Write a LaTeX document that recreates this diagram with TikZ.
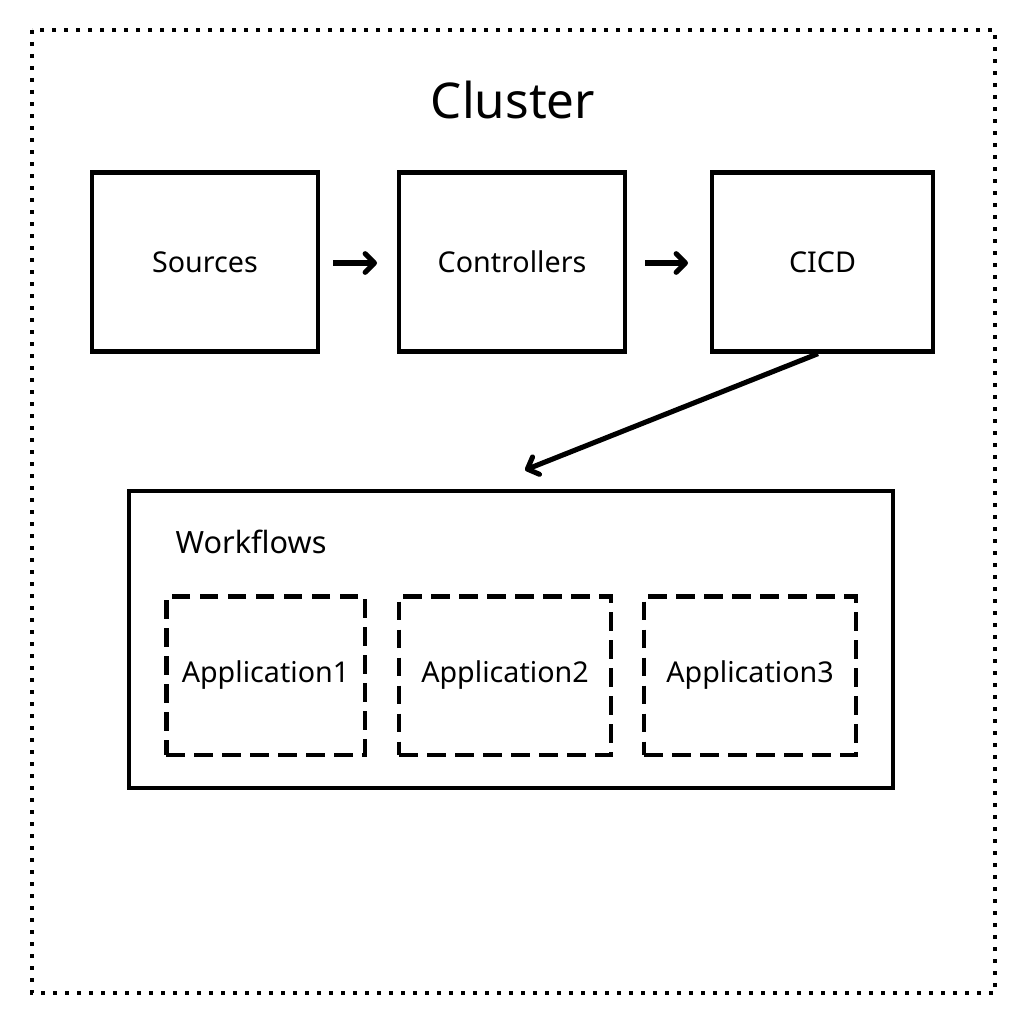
\documentclass[tikz,border=0pt]{standalone}
\usepackage{fontspec}
\setmainfont{Noto Sans}
\usetikzlibrary{arrows.meta}
\begin{document}
\begin{tikzpicture}[x=0.75pt,y=-0.75pt,
  box/.style={draw,line width=3.5pt,minimum width=168pt,minimum height=134pt,inner sep=0pt,font=\fontsize{21.5}{25}\selectfont},
  appbox/.style={draw,line width=3.5pt,dash pattern=on 14pt off 7pt,inner sep=0pt,font=\fontsize{21.5}{25}\selectfont},
  arr/.style={line width=3.8pt,-{Straight Barb[round,length=7pt,width=14pt]}}]
\useasboundingbox (0,0) rectangle (1024,1024);
\draw[line width=3.2pt,dash pattern=on 3pt off 6pt] (32,30) rectangle (995,993);
\node (title) at (513,100) {\fontsize{37}{42}\selectfont Cluster};
\node[box,minimum width=169.5pt] (src) at (205,262) {Sources};
\node[box,minimum width=169.5pt] (ctl) at (512,262) {Controllers};
\node[box,minimum width=165.75pt] (cicd) at (822.5,262) {CICD};
\draw[line width=3.5pt] (129,491) rectangle (893,788);
\coordinate (wftop) at (525,470);
\node[anchor=west,font=\fontsize{23}{27}\selectfont] (wf) at (171,542) {Workflows};
\node[appbox,minimum width=149pt,minimum height=119pt] (a1) at (265.5,675.5) {Application1};
\node[appbox,minimum width=159pt,minimum height=119pt] (a2) at (505,675.5) {Application2};
\node[appbox,minimum width=159pt,minimum height=119pt] (a3) at (750,675.5) {Application3};
\coordinate (s1) at (333,263); \coordinate (e1) at (377,263);
\coordinate (s2) at (645,263); \coordinate (e2) at (688,263);
\draw[arr] (s1) -- (e1);
\draw[arr] (s2) -- (e2);
\draw[arr] (cicd.south -| 818,0) -- (wftop);
\end{tikzpicture}
\end{document}
